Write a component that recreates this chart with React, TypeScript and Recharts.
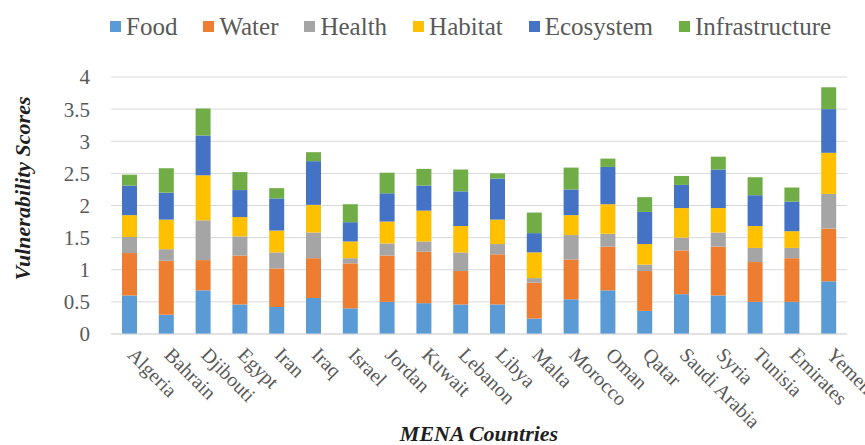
import { BarChart, Bar, XAxis, YAxis, CartesianGrid, Legend, Label } from "recharts";

const countries = [
  "Algeria", "Bahrain", "Djibouti", "Egypt", "Iran", "Iraq", "Israel", "Jordan", "Kuwait", "Lebanon",
  "Libya", "Malta", "Morocco", "Oman", "Qatar", "Saudi Arabia", "Syria", "Tunisia", "Emirates", "Yemen",
];

const food = [0.6, 0.3, 0.68, 0.46, 0.42, 0.56, 0.4, 0.5, 0.48, 0.46, 0.46, 0.24, 0.54, 0.68, 0.36, 0.62, 0.6, 0.5, 0.5, 0.82];
const water = [0.66, 0.84, 0.47, 0.76, 0.6, 0.62, 0.7, 0.72, 0.8, 0.52, 0.78, 0.56, 0.62, 0.68, 0.62, 0.68, 0.76, 0.62, 0.68, 0.82];
const health = [0.25, 0.18, 0.62, 0.3, 0.25, 0.4, 0.08, 0.19, 0.16, 0.29, 0.16, 0.07, 0.38, 0.2, 0.1, 0.2, 0.22, 0.22, 0.16, 0.54];
const habitat = [0.34, 0.46, 0.7, 0.3, 0.34, 0.43, 0.26, 0.34, 0.48, 0.41, 0.38, 0.4, 0.31, 0.46, 0.32, 0.46, 0.38, 0.34, 0.26, 0.64];
const ecosystem = [0.46, 0.42, 0.62, 0.42, 0.5, 0.68, 0.3, 0.44, 0.39, 0.54, 0.64, 0.3, 0.4, 0.58, 0.5, 0.36, 0.6, 0.48, 0.46, 0.68];
const infrastructure = [0.17, 0.38, 0.42, 0.28, 0.16, 0.14, 0.28, 0.32, 0.26, 0.34, 0.08, 0.32, 0.34, 0.13, 0.23, 0.14, 0.2, 0.28, 0.22, 0.34];

const seriesNames = ["Food", "Water", "Health", "Habitat", "Ecosystem", "Infrastructure"];
const seriesValues = [food, water, health, habitat, ecosystem, infrastructure];
const seriesColors = ["#5b9bd5", "#ed7d31", "#a5a5a5", "#ffc000", "#4472c4", "#70ad47"];

const yTicks = [0, 0.5, 1, 1.5, 2, 2.5, 3, 3.5, 4];

const data = countries.map((name, i) => {
  const row: Record<string, string | number> = { name };
  seriesNames.forEach((s, k) => {
    row[s] = seriesValues[k][i];
  });
  return row;
});

const serif = "Liberation Serif";

const CountryTick = (props: any) => {
  const { x, y, payload } = props;
  return (
    <g transform={`translate(${x - 3},${y + 4})`}>
      <text
        x={0}
        y={0}
        transform="rotate(45)"
        textAnchor="start"
        style={{ fontFamily: serif }}
        fontSize={20}
        fill="#595959"
      >
        {payload.value}
      </text>
    </g>
  );
};

const LegendContent = () => (
  <div
    style={{
      display: "flex",
      alignItems: "center",
      paddingLeft: 110,
      paddingTop: 3,
      height: 50,
      boxSizing: "border-box",
      fontFamily: serif,
      fontSize: 25,
      color: "#595959",
    }}
  >
    {seriesNames.map((s, k) => (
      <div key={s} style={{ display: "flex", alignItems: "center", marginRight: 26, lineHeight: "28px" }}>
        <span style={{ width: 11, height: 11, background: seriesColors[k], marginRight: 5, display: "inline-block" }} />
        <span>{s}</span>
      </div>
    ))}
  </div>
);

export default function App() {
  return (
    <div style={{ position: "absolute", left: 0, top: 0, width: 865, height: 445, background: "#fff" }}>
      <BarChart width={865} height={445} data={data} margin={{ top: 0, right: 18, bottom: 0, left: 0 }} barSize={15}>
        <Legend verticalAlign="top" align="left" height={77} content={<LegendContent />} wrapperStyle={{ left: 0, top: 0, width: 865 }} />
        <CartesianGrid vertical={false} stroke="#d9d9d9" />
        <XAxis
          dataKey="name"
          interval={0}
          height={111}
          tickLine={false}
          axisLine={{ stroke: "#d9d9d9" }}
          tick={<CountryTick />}
          tickMargin={12}
        >
          <Label
            value="MENA Countries"
            position="insideBottom"
            offset={4}
            style={{ fontFamily: serif, fontSize: 22, fontWeight: "bold", fontStyle: "italic", fill: "#1f1f1f" }}
          />
        </XAxis>
        <YAxis
          width={111}
          domain={[0, 4]}
          ticks={yTicks}
          tickLine={false}
          axisLine={false}
          tickSize={0}
          tickMargin={21}
          tick={{ fontSize: 21, fill: "#595959", style: { fontFamily: serif } }}
        >
          <Label
            content={(p: any) => {
              const vb = p.viewBox || { x: 0, y: 77, height: 257 };
              const cx = 22;
              const cy = vb.y + vb.height / 2 - 17;
              return (
                <text
                  x={cx}
                  y={cy}
                  transform={`rotate(-90 ${cx} ${cy})`}
                  textAnchor="middle"
                  dominantBaseline="central"
                  style={{ fontFamily: serif }}
                  fontSize={22}
                  fontWeight="bold"
                  fontStyle="italic"
                  fill="#1f1f1f"
                >
                  Vulnerability Scores
                </text>
              );
            }}
          />
        </YAxis>
        {seriesNames.map((s, k) => (
          <Bar key={s} dataKey={s} stackId="a" fill={seriesColors[k]} isAnimationActive={false} />
        ))}
      </BarChart>
    </div>
  );
}
